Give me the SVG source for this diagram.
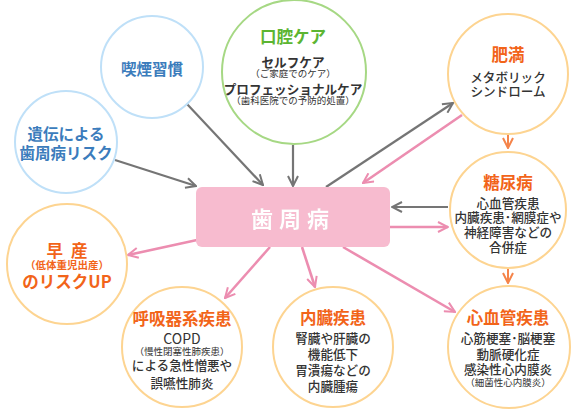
<svg xmlns="http://www.w3.org/2000/svg" width="576" height="409" viewBox="0 0 576 409">
<defs>
<style>
text{font-family:"Noto Sans CJK JP","Noto Sans",sans-serif;text-anchor:middle;dominant-baseline:central}
.cb{fill:#fff;stroke:#bfe0f8;stroke-width:2}
.cg{fill:#fff;stroke:#a6d884;stroke-width:2}
.co{fill:#fff;stroke:#fdd491;stroke-width:2}
.tb{fill:#3b7cbc;font-weight:700;font-size:15.5px}
.tg{fill:#5cb531;font-weight:700;font-size:16.5px}
.to{fill:#f26419;font-weight:700;font-size:16.5px}
.bd{fill:#333;font-weight:500;font-size:12.6px}
.bk{fill:#333;font-weight:700;font-size:12.6px}
.sm{fill:#333;font-size:9.5px}
.gr{stroke:#757575;stroke-width:2.2;fill:none}
.pk{stroke:#ec8db0;stroke-width:2.6;fill:none}
.or{stroke:#f5844a;stroke-width:2;fill:none}
</style>
<marker id="mg" viewBox="0 0 12 12" refX="11" refY="6" markerWidth="12" markerHeight="12" markerUnits="userSpaceOnUse" orient="auto"><path d="M1,1 L11,6 L1,11" fill="none" stroke="#757575" stroke-width="2"/></marker>
<marker id="mp" viewBox="0 0 12 12" refX="11" refY="6" markerWidth="12" markerHeight="12" markerUnits="userSpaceOnUse" orient="auto"><path d="M1,1 L11,6 L1,11" fill="none" stroke="#ec8db0" stroke-width="2"/></marker>
<marker id="mo" viewBox="0 0 12 12" refX="11" refY="6" markerWidth="12" markerHeight="12" markerUnits="userSpaceOnUse" orient="auto"><path d="M1,1 L11,6 L1,11" fill="none" stroke="#f5844a" stroke-width="2"/></marker>
<filter id="glow" x="-20%" y="-40%" width="140%" height="180%"><feGaussianBlur in="SourceAlpha" stdDeviation="2"/><feFlood flood-color="#e0709a"/><feComposite operator="in" in2="SourceGraphic"/><feComposite operator="in"/><feMerge><feMergeNode/><feMergeNode/><feMergeNode in="SourceGraphic"/></feMerge></filter>
</defs>
<g id="connectors">
<path class="gr" d="M187,104 L263,185" marker-end="url(#mg)"/>
<path class="gr" d="M115,160 L196,186" marker-end="url(#mg)"/>
<path class="gr" d="M293,145 L293,186" marker-end="url(#mg)"/>
<path class="gr" d="M326,187 L453,103" marker-end="url(#mg)"/>
<path class="gr" d="M448,207 L392,207" marker-end="url(#mg)"/>
<path class="pk" d="M462,115 L363,183" marker-end="url(#mp)"/>
<path class="pk" d="M390,227 L448,227" marker-end="url(#mp)"/>
<path class="pk" d="M343,247 L455,312" marker-end="url(#mp)"/>
<path class="pk" d="M302,247 L315,287" marker-end="url(#mp)"/>
<path class="pk" d="M270,247 L225,298" marker-end="url(#mp)"/>
<path class="pk" d="M197,240 L128,255" marker-end="url(#mp)"/>
<path class="or" d="M508,135 L508,148" marker-end="url(#mo)"/>
<path class="or" d="M508,269 L508,283" marker-end="url(#mo)"/>
</g>
<g id="smoking"><circle class="cb" cx="152" cy="67" r="51"/><text class="tb" x="152" y="68">喫煙習慣</text></g>
<g id="heredity"><circle class="cb" cx="66" cy="142" r="51"/><text class="tb" x="66" y="133">遺伝による</text><text class="tb" x="66" y="152">歯周病リスク</text></g>
<g id="oralcare"><circle class="cg" cx="294" cy="72" r="72"/>
<text class="tg" x="293" y="36">口腔ケア</text>
<text class="bk" x="293" y="61">セルフケア</text>
<text class="sm" x="293" y="73">（ご家庭でのケア）</text>
<text class="bk" x="293" y="88">プロフェッショナルケア</text>
<text class="sm" x="293" y="100">（歯科医院での予防的処置）</text></g>
<g id="obesity"><circle class="co" cx="508" cy="74" r="60"/><text class="to" x="508" y="54">肥満</text><text class="bd" x="508" y="76">メタボリック</text><text class="bd" x="508" y="90">シンドローム</text></g>
<g id="diabetes"><circle class="co" cx="508" cy="210" r="58"/><text class="to" x="508" y="182">糖尿病</text><text class="bd" x="508" y="202">心血管疾患</text><text class="bd" x="508" y="216">内臓疾患･網膜症や</text><text class="bd" x="508" y="231">神経障害などの</text><text class="bd" x="508" y="246">合併症</text></g>
<g id="cardio"><circle class="co" cx="509" cy="347" r="61"/><text class="to" x="508" y="317">心血管疾患</text><text class="bd" x="508" y="337">心筋梗塞･脳梗塞</text><text class="bd" x="508" y="353">動脈硬化症</text><text class="bd" x="508" y="368">感染性心内膜炎</text><text class="sm" x="508" y="382">（細菌性心内膜炎）</text></g>
<g id="preterm"><circle class="co" cx="67" cy="264" r="60"/><text class="to" x="67" y="250"><tspan>早</tspan><tspan dx="8">産</tspan></text><text class="to" x="67" y="264" style="font-size:10.5px">（低体重児出産）</text><text class="to" x="67" y="281">のリスクUP</text></g>
<g id="respiratory"><circle class="co" cx="182" cy="347" r="60"/><text class="to" x="182" y="318">呼吸器系疾患</text><text class="bd" x="182" y="338" style="font-size:14px;font-weight:400">COPD</text><text class="sm" x="182" y="351">（慢性閉塞性肺疾患）</text><text class="bd" x="182" y="364">による急性憎悪や</text><text class="bd" x="182" y="382">誤嚥性肺炎</text></g>
<g id="visceral"><circle class="co" cx="333" cy="347" r="60"/><text class="to" x="333" y="317">内臓疾患</text><text class="bd" x="333" y="337">腎臓や肝臓の</text><text class="bd" x="333" y="353">機能低下</text><text class="bd" x="333" y="369">胃潰瘍などの</text><text class="bd" x="333" y="385">内臓腫瘍</text></g>
<g id="periodontal"><rect x="196" y="187" width="194" height="60" rx="6" fill="#f7bbcf"/><text x="293" y="217" filter="url(#glow)" style="fill:#fff;font-weight:700;font-size:22px;letter-spacing:6px">歯周病</text></g>
</svg>
